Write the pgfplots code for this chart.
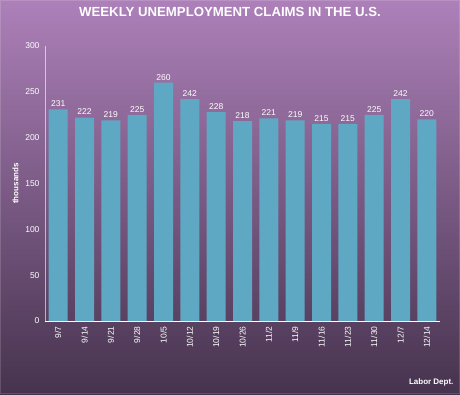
\documentclass[border=0pt]{standalone}
\usepackage{pgfplots}
\pgfplotsset{compat=1.18}
\usepackage{fontspec}
\setmainfont{Liberation Sans}
\definecolor{bgtop}{HTML}{AD80B9}
\definecolor{bgbot}{HTML}{46334E}
\definecolor{barc}{HTML}{5FA8C4}
\begin{document}
\begin{tikzpicture}[x=1pt,y=1pt]
\shade[top color=bgtop, bottom color=bgbot] (0,0) rectangle (460,394);
\draw[white, opacity=0.15, line width=1pt] (0.5,0.5) rectangle (459.5,393.5);
\node[text=white, font=\bfseries\fontsize{13.2}{15}\selectfont] at (230,382) {WEEKLY UNEMPLOYMENT CLAIMS IN THE U.S.};
\node[text=white, font=\bfseries\fontsize{8}{10}\selectfont, anchor=south east] at (457,4) {Labor Dept.};
\begin{axis}[
  at={(45pt,73pt)}, anchor=south west,
  scale only axis, width=395pt, height=275pt,
  xmin=-0.5, xmax=14.5, ymin=0, ymax=300,
  axis x line*=bottom, axis y line*=left,
  x axis line style={white, line width=1pt, -},
  y axis line style={white, opacity=0.6, line width=1pt, -},
  ytick={0,50,...,300},
  xtick={0,...,14},
  xticklabels={9/7,9/14,9/21,9/28,10/5,10/12,10/19,10/26,11/2,11/9,11/16,11/23,11/30,12/7,12/14},
  major tick length=0pt,
  /pgf/number format/assume math mode=true,
  tick label style={text=white, font=\fontsize{8.5}{10}\selectfont},
  x tick label style={rotate=90, anchor=east, xshift=-2pt},
  y tick label style={xshift=-2pt},
  ylabel={thousands},
  ylabel style={text=white, font=\bfseries\fontsize{8}{10}\selectfont},
  clip=false,
]
\addplot[ybar, bar width=19pt, fill=barc, draw=none,
  nodes near coords, nodes near coords style={text=white, font=\fontsize{8.5}{10}\selectfont, /pgf/number format/assume math mode=true, yshift=-1pt}]
  coordinates {(0,231) (1,222) (2,219) (3,225) (4,260) (5,242) (6,228) (7,218) (8,221) (9,219) (10,215) (11,215) (12,225) (13,242) (14,220)};
\end{axis}
\end{tikzpicture}
\end{document}
